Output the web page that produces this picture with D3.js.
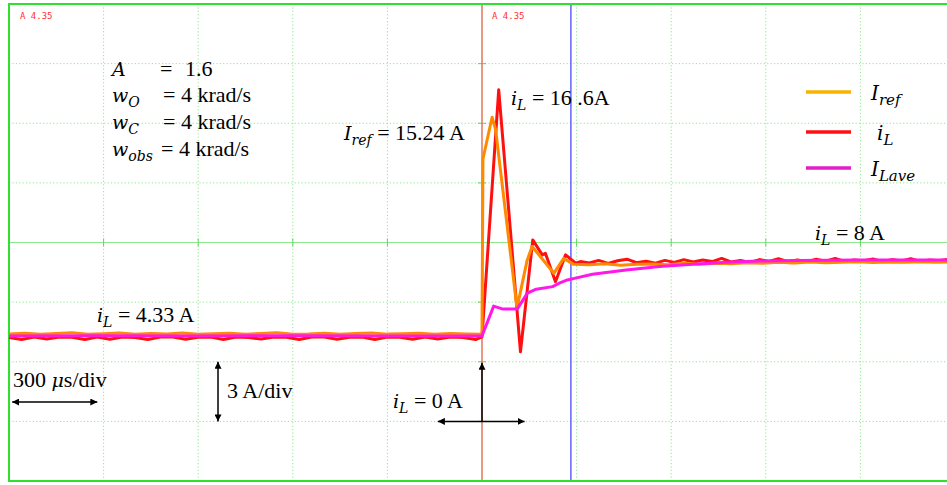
<!DOCTYPE html>
<html>
<head>
<meta charset="utf-8">
<script src="https://cdn.jsdelivr.net/npm/d3@7"></script>
<style>
 body { margin: 0; background: #fff; }
 svg { display: block; }
</style>
</head>
<body>
<script>
const width = 947;
const height = 485;

// time in microseconds (0 = load step), current in amps
const irefT = [-1500, -1450, -1400, -1350, -1300, -1250, -1200, -1150, -1100, -1050, -1000, -950, -900, -850, -800, -750, -700, -650, -600, -550, -500, -450, -400, -350, -300, -250, -200, -150, -100, -50, 0,
 3, 32, 43, 111, 143, 159, 228, 259, 291, 340, 390, 440, 490, 540, 590, 640, 690, 740, 790, 840, 890, 940, 990, 1040, 1090, 1140, 1190, 1240, 1290, 1340, 1390, 1440, 1500];
const irefV = [4.40, 4.44, 4.38, 4.42, 4.46, 4.38, 4.41, 4.45, 4.38, 4.42, 4.40, 4.45, 4.38, 4.41, 4.44, 4.39, 4.42, 4.46, 4.38, 4.40, 4.44, 4.38, 4.42, 4.45, 4.39, 4.41, 4.44, 4.38, 4.42, 4.40, 4.38,
 13.2, 15.3, 14.7, 5.7, 8.1, 8.8, 7.45, 8.2, 7.9, 7.88, 7.93, 7.86, 7.90, 7.92, 7.88, 7.95, 7.90, 7.96, 7.93, 7.98, 7.95, 8.00, 7.97, 8.02, 7.98, 8.01, 8.03, 7.99, 8.02, 8.00, 8.03, 8.01, 8.02];

const ilT = [-1500, -1460, -1420, -1380, -1340, -1300, -1260, -1220, -1180, -1140, -1100, -1060, -1020, -980, -940, -900, -860, -820, -780, -740, -700, -660, -620, -580, -540, -500, -460, -420, -380, -340, -300, -260, -220, -180, -140, -100, -60, -20, 0,
 53, 122, 161, 191, 201, 233, 265, 297, 312, 340, 370, 400, 430, 460, 490, 520, 550, 580, 610, 640, 670, 700, 730, 760, 790, 820, 850, 880, 910, 940, 970, 1000, 1030, 1060, 1090, 1120, 1150, 1180, 1210, 1240, 1270, 1300, 1330, 1360, 1390, 1420, 1450, 1480, 1500];
const ilV = [4.22, 4.12, 4.24, 4.14, 4.25, 4.23, 4.12, 4.24, 4.13, 4.25, 4.22, 4.12, 4.24, 4.25, 4.13, 4.23, 4.24, 4.12, 4.25, 4.22, 4.14, 4.24, 4.23, 4.12, 4.25, 4.24, 4.13, 4.23, 4.25, 4.12, 4.24, 4.23, 4.13, 4.25, 4.14, 4.24, 4.22, 4.12, 4.25,
 16.68, 3.5, 9.13, 8.38, 8.46, 7.03, 8.38, 7.96, 8.04, 7.97, 8.10, 7.95, 8.08, 8.16, 7.98, 8.06, 7.96, 8.10, 8.00, 8.14, 8.02, 8.12, 8.04, 8.20, 8.02, 8.10, 8.00, 8.14, 8.05, 8.18, 8.03, 8.12, 8.04, 8.16, 8.06, 8.20, 8.05, 8.12, 8.08, 8.17, 8.04, 8.14, 8.07, 8.19, 8.05, 8.12, 8.08, 8.16, 8.06];

const laveT = [-1500, -1200, -900, -600, -300, 0, 37, 64, 112, 144, 172, 224, 245, 267, 300, 350, 457, 563, 668, 775, 880, 1000, 1200, 1500];
const laveV = [4.30, 4.31, 4.30, 4.31, 4.30, 4.30, 5.8, 5.66, 5.66, 6.45, 6.65, 6.78, 6.95, 7.10, 7.22, 7.40, 7.62, 7.79, 7.91, 8.01, 8.07, 8.10, 8.12, 8.12];

const cursorT = [0, 282];
const xGrid = [-1200, -900, -600, -300, 300, 600, 900, 1200];
const yGrid = [0, 3, 6, 12, 15, 18];
const centreT = 0;
const centreI = 9;

const legendNames = [["I", "ref"], ["i", "L"], ["I", "Lave"]];
const traceColors = ["#ff8a00", "#ff1010", "#ff18e8"];
const legendColors = ["#f6b400", "#ff1010", "#e020c8"];

const svg = d3.select("body")
 .append("svg")
 .attr("width", width)
 .attr("height", height);

const x = d3.scaleLinear()
 .domain([-1500, 1500])
 .range([9, 955]);

const y = d3.scaleLinear()
 .domain([-3, 21])
 .range([481, 4]);

// dotted grid
svg.selectAll(".vgrid")
 .data(xGrid)
 .enter()
 .append("line")
 .attr("x1", d => x(d))
 .attr("x2", d => x(d))
 .attr("y1", y(21))
 .attr("y2", y(-3))
 .attr("stroke", "#8ee88e")
 .attr("stroke-dasharray", "1.2,2.2");

svg.selectAll(".hgrid")
 .data(yGrid)
 .enter()
 .append("line")
 .attr("x1", x(-1500))
 .attr("x2", x(1500))
 .attr("y1", d => y(d))
 .attr("y2", d => y(d))
 .attr("stroke", "#8ee88e")
 .attr("stroke-dasharray", "1.2,2.2");

// solid centre lines with ticks
svg.append("line")
 .attr("x1", x(-1500)).attr("x2", x(1500))
 .attr("y1", y(centreI)).attr("y2", y(centreI))
 .attr("stroke", "#8ee88e");
svg.append("line")
 .attr("x1", x(centreT)).attr("x2", x(centreT))
 .attr("y1", y(21)).attr("y2", y(-3))
 .attr("stroke", "#8ee88e");

svg.selectAll(".htick")
 .data(xGrid)
 .enter()
 .append("line")
 .attr("x1", d => x(d)).attr("x2", d => x(d))
 .attr("y1", y(centreI) - 4).attr("y2", y(centreI) + 4)
 .attr("stroke", "#5bd85b");

svg.selectAll(".vtick")
 .data(yGrid)
 .enter()
 .append("line")
 .attr("x1", x(centreT) - 4).attr("x2", x(centreT) + 4)
 .attr("y1", d => y(d)).attr("y2", d => y(d))
 .attr("stroke", "#5bd85b");

// cursors
svg.selectAll(".cursor")
 .data(cursorT)
 .enter()
 .append("line")
 .attr("x1", d => x(d)).attr("x2", d => x(d))
 .attr("y1", y(21)).attr("y2", y(-3))
 .attr("stroke", (d, i) => i === 0 ? "#ff5a5a" : "#3a3aff")
 .attr("stroke-width", 1.2);

// frame
svg.append("rect")
 .attr("x", x(-1500))
 .attr("y", y(21))
 .attr("width", x(1500) - x(-1500))
 .attr("height", y(-3) - y(21))
 .attr("fill", "none")
 .attr("stroke", "#2fe02f")
 .attr("stroke-width", 2);

svg.selectAll(".alabel")
 .data([20, 492])
 .enter()
 .append("text")
 .attr("x", d => d)
 .attr("y", 19)
 .attr("font-family", "DejaVu Sans Mono")
 .attr("font-size", 9)
 .attr("fill", "#ff3030")
 .text("A 4.35");

// traces
const line = d3.line()
 .x(d => x(d[0]))
 .y(d => y(d[1]));

const traces = [
 d3.zip(ilT, ilV),
 d3.zip(irefT, irefV),
 d3.zip(laveT, laveV)
];
const traceColor = [traceColors[1], traceColors[0], traceColors[2]];

svg.selectAll(".trace")
 .data(traces)
 .enter()
 .append("path")
 .attr("fill", "none")
 .attr("stroke", (d, i) => traceColor[i])
 .attr("stroke-width", 3)
 .attr("stroke-linejoin", "round")
 .attr("d", line);

// arrows
const defs = svg.append("defs");
defs.append("marker")
 .attr("id", "head")
 .attr("viewBox", "0 0 10 10")
 .attr("refX", 10)
 .attr("refY", 5)
 .attr("markerWidth", 7)
 .attr("markerHeight", 7)
 .attr("markerUnits", "userSpaceOnUse")
 .attr("orient", "auto-start-reverse")
 .append("path")
 .attr("d", "M0,0 L10,5 L0,10 z")
 .attr("fill", "#000");

function arrow(x1, y1, x2, y2, both) {
 const a = svg.append("line")
  .attr("x1", x1).attr("y1", y1)
  .attr("x2", x2).attr("y2", y2)
  .attr("stroke", "#000")
  .attr("stroke-width", 1.5)
  .attr("marker-end", "url(#head)");
 if (both) a.attr("marker-start", "url(#head)");
}

arrow(x(-1490), 402, x(-1220), 402, true);
arrow(218, y(3), 218, y(0), true);
arrow(x(-140), y(0), x(135), y(0), true);
arrow(x(0), y(0), x(0), y(2.95), false);

// math style labels: italic variables in DejaVu Serif, plain text in Liberation Serif
function label(px, py, parts, size) {
 const t = svg.append("text")
  .attr("x", px)
  .attr("y", py)
  .attr("font-family", "Liberation Serif")
  .attr("font-size", size || 22)
  .attr("fill", "#000");
 parts.forEach(p => {
  const s = t.append("tspan").text(p.t);
  if (p.it) s.attr("font-style", "italic").attr("font-family", "DejaVu Serif").attr("font-size", (size || 22) - 3);
  if (p.sub) s.attr("font-size", (size || 22) - 8).attr("dy", 5);
  if (p.up) s.attr("dy", -5);
 });
 return t;
}

label(112, 76, [{ t: "A", it: true }]);
label(160, 76, [{ t: "=" }]);
label(185, 76, [{ t: "1.6" }]);
label(112, 102, [{ t: "w", it: true }, { t: "O", it: true, sub: true }]);
label(163, 102, [{ t: "= 4 krad/s" }]);
label(112, 129, [{ t: "w", it: true }, { t: "C", it: true, sub: true }]);
label(163, 129, [{ t: "= 4 krad/s" }]);
label(112, 156, [{ t: "w", it: true }, { t: "obs", it: true, sub: true }]);
label(161, 156, [{ t: "= 4 krad/s" }]);

label(344, 140, [{ t: "I", it: true }, { t: "ref", it: true, sub: true }, { t: " = 15.24 A", up: true }]);
label(511, 105, [{ t: "i", it: true }, { t: "L", it: true, sub: true }, { t: " = 16 .6A", up: true }]);
label(815, 240, [{ t: "i", it: true }, { t: "L", it: true, sub: true }, { t: " = 8 A", up: true }]);
label(97, 322, [{ t: "i", it: true }, { t: "L", it: true, sub: true }, { t: " = 4.33 A", up: true }]);
label(393, 408, [{ t: "i", it: true }, { t: "L", it: true, sub: true }, { t: " = 0 A", up: true }]);
label(13, 387, [{ t: "300 " }, { t: "μ", it: true }, { t: "s/div" }]);
label(227, 398, [{ t: "3 A/div" }]);

// legend
const legendY = [92, 132, 168];
svg.selectAll(".leg")
 .data(legendNames)
 .enter()
 .append("line")
 .attr("x1", 806)
 .attr("x2", 851)
 .attr("y1", (d, i) => legendY[i])
 .attr("y2", (d, i) => legendY[i])
 .attr("stroke", (d, i) => legendColors[i])
 .attr("stroke-width", 3.5);

legendNames.forEach((n, i) => {
 label(i === 1 ? 877 : 871, legendY[i] + 8, [{ t: n[0], it: true }, { t: n[1], it: true, sub: true }], 23);
});
</script>
</body>
</html>
